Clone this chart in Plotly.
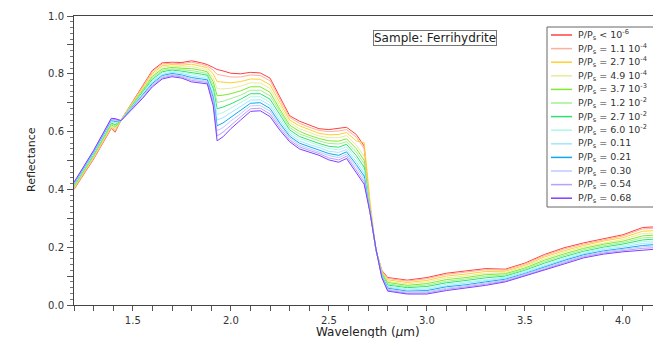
import plotly.graph_objects as go

wavelength = [1.20, 1.30, 1.39, 1.41, 1.44, 1.50, 1.55, 1.60, 1.65, 1.70, 1.75, 1.80, 1.85, 1.88,
              1.91, 1.93, 1.96, 2.00, 2.05, 2.10, 2.15, 2.20, 2.25, 2.30, 2.35, 2.40, 2.45, 2.50,
              2.55, 2.59, 2.64, 2.68, 2.71, 2.74, 2.77, 2.80, 2.90, 3.00, 3.10, 3.20, 3.30, 3.40,
              3.50, 3.60, 3.70, 3.80, 3.90, 4.00, 4.10, 4.20]

labels = [
    "P/P<sub>s</sub> &lt; 10<sup>-6</sup>",
    "P/P<sub>s</sub> = 1.1 10<sup>-4</sup>",
    "P/P<sub>s</sub> = 2.7 10<sup>-4</sup>",
    "P/P<sub>s</sub> = 4.9 10<sup>-4</sup>",
    "P/P<sub>s</sub> = 3.7 10<sup>-3</sup>",
    "P/P<sub>s</sub> = 1.2 10<sup>-2</sup>",
    "P/P<sub>s</sub> = 2.7 10<sup>-2</sup>",
    "P/P<sub>s</sub> = 6.0 10<sup>-2</sup>",
    "P/P<sub>s</sub> = 0.11",
    "P/P<sub>s</sub> = 0.21",
    "P/P<sub>s</sub> = 0.30",
    "P/P<sub>s</sub> = 0.54",
    "P/P<sub>s</sub> = 0.68",
]

colors = ["#ff4040", "#ffb09a", "#ffd030", "#e8ec9c", "#80e830", "#a0f090", "#30e070",
          "#b0f6e6", "#a0e6ff", "#10a8f0", "#c0c8ff", "#b8a0ff", "#8040ff"]

r_pps_1e6 = [0.400, 0.505, 0.611, 0.598, 0.640, 0.705, 0.760, 0.812, 0.838, 0.840, 0.839, 0.845, 0.838, 0.832,
             0.822, 0.815, 0.810, 0.802, 0.800, 0.805, 0.803, 0.785, 0.720, 0.655, 0.636, 0.622, 0.610, 0.607,
             0.610, 0.615, 0.590, 0.550, 0.330, 0.190, 0.120, 0.095, 0.086, 0.095, 0.110, 0.117, 0.126, 0.124,
             0.145, 0.175, 0.198, 0.215, 0.230, 0.243, 0.268, 0.272]
r_pps_1_1e4 = [0.402, 0.507, 0.613, 0.601, 0.640, 0.703, 0.757, 0.808, 0.834, 0.837, 0.835, 0.840, 0.833, 0.827,
               0.813, 0.798, 0.794, 0.789, 0.789, 0.796, 0.794, 0.776, 0.712, 0.649, 0.629, 0.615, 0.604, 0.600,
               0.602, 0.607, 0.581, 0.541, 0.329, 0.190, 0.118, 0.092, 0.083, 0.091, 0.106, 0.113, 0.122, 0.121,
               0.142, 0.171, 0.194, 0.211, 0.226, 0.239, 0.263, 0.267]
r_pps_2_7e4 = [0.404, 0.510, 0.617, 0.606, 0.640, 0.701, 0.752, 0.802, 0.828, 0.832, 0.830, 0.833, 0.826, 0.821,
               0.800, 0.773, 0.771, 0.769, 0.773, 0.782, 0.781, 0.762, 0.700, 0.640, 0.620, 0.606, 0.594, 0.589,
               0.590, 0.597, 0.568, 0.562, 0.360, 0.191, 0.116, 0.087, 0.078, 0.085, 0.100, 0.107, 0.116, 0.117,
               0.137, 0.166, 0.188, 0.206, 0.221, 0.233, 0.255, 0.259]
r_pps_4_9e4 = [0.407, 0.513, 0.620, 0.611, 0.639, 0.698, 0.748, 0.797, 0.823, 0.827, 0.824, 0.825, 0.819, 0.814,
               0.786, 0.748, 0.748, 0.750, 0.757, 0.769, 0.768, 0.749, 0.689, 0.631, 0.610, 0.597, 0.585, 0.579,
               0.579, 0.586, 0.554, 0.514, 0.327, 0.191, 0.113, 0.082, 0.073, 0.080, 0.094, 0.101, 0.110, 0.112,
               0.133, 0.160, 0.183, 0.201, 0.215, 0.227, 0.247, 0.251]
r_pps_3_7e3 = [0.409, 0.516, 0.624, 0.615, 0.639, 0.696, 0.743, 0.791, 0.817, 0.822, 0.819, 0.818, 0.812, 0.807,
               0.773, 0.724, 0.726, 0.731, 0.741, 0.755, 0.755, 0.736, 0.677, 0.622, 0.601, 0.587, 0.576, 0.568,
               0.567, 0.575, 0.541, 0.501, 0.326, 0.192, 0.111, 0.078, 0.068, 0.074, 0.088, 0.095, 0.105, 0.108,
               0.128, 0.155, 0.177, 0.196, 0.210, 0.221, 0.239, 0.244]
r_pps_1_2e2 = [0.412, 0.519, 0.627, 0.620, 0.639, 0.694, 0.739, 0.786, 0.812, 0.817, 0.814, 0.811, 0.805, 0.801,
               0.761, 0.701, 0.705, 0.714, 0.726, 0.743, 0.743, 0.724, 0.667, 0.614, 0.592, 0.579, 0.568, 0.559,
               0.557, 0.565, 0.529, 0.489, 0.325, 0.192, 0.109, 0.073, 0.064, 0.069, 0.082, 0.090, 0.099, 0.104,
               0.124, 0.150, 0.172, 0.191, 0.205, 0.216, 0.232, 0.237]
r_pps_2_7e2 = [0.414, 0.522, 0.630, 0.624, 0.639, 0.691, 0.735, 0.781, 0.807, 0.813, 0.809, 0.805, 0.799, 0.795,
               0.749, 0.679, 0.685, 0.696, 0.712, 0.731, 0.731, 0.712, 0.657, 0.606, 0.583, 0.570, 0.559, 0.549,
               0.546, 0.556, 0.517, 0.477, 0.325, 0.193, 0.106, 0.069, 0.060, 0.064, 0.077, 0.085, 0.094, 0.100,
               0.120, 0.145, 0.167, 0.186, 0.200, 0.211, 0.225, 0.230]
r_pps_6_0e2 = [0.416, 0.524, 0.633, 0.628, 0.639, 0.689, 0.732, 0.776, 0.803, 0.809, 0.805, 0.799, 0.793, 0.790,
               0.739, 0.659, 0.666, 0.681, 0.699, 0.720, 0.721, 0.701, 0.648, 0.598, 0.576, 0.563, 0.552, 0.541,
               0.537, 0.547, 0.507, 0.467, 0.324, 0.193, 0.104, 0.065, 0.056, 0.059, 0.072, 0.080, 0.089, 0.096,
               0.117, 0.140, 0.163, 0.182, 0.196, 0.206, 0.219, 0.224]
r_pps_0_11 = [0.418, 0.526, 0.636, 0.631, 0.639, 0.687, 0.728, 0.772, 0.798, 0.805, 0.801, 0.793, 0.788, 0.784,
              0.728, 0.640, 0.648, 0.666, 0.686, 0.709, 0.710, 0.691, 0.638, 0.591, 0.568, 0.555, 0.545, 0.532,
              0.528, 0.538, 0.496, 0.456, 0.323, 0.194, 0.102, 0.062, 0.052, 0.055, 0.067, 0.075, 0.085, 0.093,
              0.113, 0.136, 0.158, 0.178, 0.192, 0.201, 0.213, 0.217]
r_pps_0_21 = [0.420, 0.529, 0.639, 0.635, 0.638, 0.685, 0.724, 0.767, 0.794, 0.801, 0.796, 0.787, 0.782, 0.779,
              0.718, 0.620, 0.630, 0.650, 0.674, 0.698, 0.700, 0.680, 0.629, 0.584, 0.560, 0.548, 0.537, 0.524,
              0.518, 0.530, 0.486, 0.446, 0.322, 0.194, 0.100, 0.058, 0.048, 0.050, 0.063, 0.070, 0.080, 0.089,
              0.109, 0.132, 0.154, 0.174, 0.187, 0.196, 0.206, 0.211]
r_pps_0_30 = [0.422, 0.531, 0.641, 0.638, 0.638, 0.684, 0.721, 0.763, 0.790, 0.797, 0.793, 0.782, 0.777, 0.774,
              0.709, 0.603, 0.614, 0.637, 0.662, 0.689, 0.690, 0.671, 0.621, 0.578, 0.553, 0.541, 0.531, 0.517,
              0.510, 0.522, 0.477, 0.437, 0.321, 0.194, 0.099, 0.055, 0.045, 0.046, 0.058, 0.066, 0.076, 0.086,
              0.106, 0.128, 0.150, 0.170, 0.184, 0.192, 0.201, 0.206]
r_pps_0_54 = [0.423, 0.533, 0.644, 0.642, 0.638, 0.682, 0.718, 0.759, 0.786, 0.794, 0.789, 0.777, 0.772, 0.770,
              0.699, 0.585, 0.598, 0.623, 0.651, 0.679, 0.681, 0.661, 0.613, 0.571, 0.547, 0.535, 0.524, 0.509,
              0.502, 0.515, 0.467, 0.427, 0.321, 0.195, 0.097, 0.051, 0.041, 0.042, 0.054, 0.062, 0.072, 0.083,
              0.103, 0.124, 0.146, 0.167, 0.180, 0.188, 0.196, 0.200]
r_pps_0_68 = [0.425, 0.535, 0.646, 0.645, 0.638, 0.680, 0.715, 0.755, 0.782, 0.790, 0.785, 0.772, 0.767, 0.765,
              0.690, 0.568, 0.582, 0.610, 0.640, 0.670, 0.672, 0.652, 0.605, 0.565, 0.540, 0.528, 0.518, 0.502,
              0.494, 0.507, 0.458, 0.418, 0.320, 0.195, 0.095, 0.048, 0.038, 0.038, 0.050, 0.058, 0.068, 0.080,
              0.100, 0.120, 0.142, 0.163, 0.176, 0.184, 0.190, 0.195]

series = [r_pps_1e6, r_pps_1_1e4, r_pps_2_7e4, r_pps_4_9e4, r_pps_3_7e3, r_pps_1_2e2, r_pps_2_7e2,
          r_pps_6_0e2, r_pps_0_11, r_pps_0_21, r_pps_0_30, r_pps_0_54, r_pps_0_68]

x_tickvals = [1.2, 1.3, 1.4, 1.5, 1.6, 1.7, 1.8, 1.9, 2.0, 2.1, 2.2, 2.3, 2.4, 2.5, 2.6, 2.7, 2.8, 2.9,
              3.0, 3.1, 3.2, 3.3, 3.4, 3.5, 3.6, 3.7, 3.8, 3.9, 4.0, 4.1]
x_ticktext = ["", "", "", "1.5", "", "", "", "", "2.0", "", "", "", "", "2.5", "", "", "", "",
              "3.0", "", "", "", "", "3.5", "", "", "", "", "4.0", ""]
y_tickvals = [0.0, 0.1, 0.2, 0.3, 0.4, 0.5, 0.6, 0.7, 0.8, 0.9, 1.0]
y_ticktext = ["0.0", "", "0.2", "", "0.4", "", "0.6", "", "0.8", "", "1.0"]

# The page body has an 8px default margin, so the figure is sized to fit the
# 661x338 window with that offset; layout targets are given in window pixels.
OFF = 8
W, H = 661 - OFF, 338 - OFF
PL, PR, PT, PB = 74, 659, 16, 305           # plot area in window pixels
ML, MT = PL - OFF, PT - OFF
MR, MB = W - (PR - OFF), H - (PB - OFF)
PW, PH = PR - PL, PB - PT


def px_x(p):
    return (p - PL) / PW


def px_y(p):
    return (PB - p) / PH


fig = go.Figure()
for name, vals, col in zip(labels, series, colors):
    fig.add_trace(go.Scatter(x=wavelength, y=vals, mode="lines", name=name,
                             line=dict(color=col, width=1)))

axis_font = dict(family="DejaVu Sans", size=10, color="#333333")

fig.update_layout(
    width=W, height=H,
    margin=dict(l=ML, r=MR, t=MT, b=MB, autoexpand=False),
    paper_bgcolor="white", plot_bgcolor="white",
    font=dict(family="DejaVu Sans", size=10, color="#222222"),
    showlegend=False,
    xaxis=dict(range=[1.2, 4.184], showgrid=False, zeroline=False, automargin=False,
               showline=True, linecolor="#444444", linewidth=1, mirror=True,
               ticks="outside", ticklen=5, tickcolor="#555555", ticklabelstandoff=1,
               tickvals=x_tickvals, ticktext=x_ticktext, tickfont=axis_font),
    yaxis=dict(range=[0, 1.0], showgrid=False, zeroline=False, automargin=False,
               showline=True, linecolor="#444444", linewidth=1,
               ticks="outside", ticklen=6, tickcolor="#555555", ticklabelstandoff=1,
               tickvals=y_tickvals, ticktext=y_ticktext, tickfont=axis_font,
               minor=dict(dtick=0.02, ticks="outside", ticklen=3, tickcolor="#777777")),
    yaxis2=dict(range=[0, 1.0], overlaying="y", side="right", anchor="x", automargin=False,
                showgrid=False, zeroline=False, showline=True, linecolor="#444444",
                ticks="inside", ticklen=6, tickcolor="#555555", showticklabels=False,
                tickvals=y_tickvals,
                minor=dict(dtick=0.02, ticks="inside", ticklen=3, tickcolor="#777777")),
)

# axis titles
fig.add_annotation(x=px_x(368), y=px_y(332), xref="paper", yref="paper",
                   xanchor="center", yanchor="middle",
                   text="Wavelength (<i>µ</i>m)", showarrow=False,
                   font=dict(family="DejaVu Sans", size=12, color="#222222"))
fig.add_annotation(x=px_x(31), y=px_y(160), xref="paper", yref="paper",
                   xanchor="center", yanchor="middle",
                   text="Reflectance", showarrow=False, textangle=-90,
                   font=dict(family="DejaVu Sans", size=11, color="#222222"))

# sample label
fig.add_annotation(x=px_x(435), y=px_y(37.5), xref="paper", yref="paper",
                   xanchor="center", yanchor="middle",
                   text="Sample: Ferrihydrite", showarrow=False,
                   font=dict(family="DejaVu Sans", size=12, color="#222222"),
                   bordercolor="#777777", borderwidth=1, borderpad=0, bgcolor="white")

# legend box drawn by hand (compact rows like the reference)
fig.add_shape(type="rect", xref="paper", yref="paper",
              x0=px_x(547), x1=px_x(655), y0=px_y(207), y1=px_y(27),
              line=dict(color="#666666", width=1), fillcolor="white", layer="above")
row0, row_step = 35.0, 13.6
for i, (name, col) in enumerate(zip(labels, colors)):
    yy = px_y(row0 + row_step * i)
    fig.add_shape(type="line", xref="paper", yref="paper",
                  x0=px_x(551), x1=px_x(572), y0=yy, y1=yy,
                  line=dict(color=col, width=1.5), layer="above")
    fig.add_annotation(x=px_x(576), y=yy, xref="paper", yref="paper",
                       xanchor="left", yanchor="middle", text=name, showarrow=False,
                       font=dict(family="DejaVu Sans", size=9.5, color="#333333"))

fig.write_html("out.html")
